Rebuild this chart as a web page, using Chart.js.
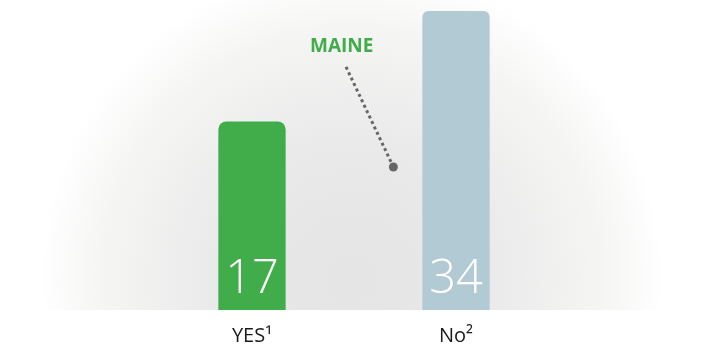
<!DOCTYPE html>
<html>
<head>
<meta charset="utf-8">
<script src="https://cdn.jsdelivr.net/npm/chart.js@4/dist/chart.umd.min.js"></script>
<style>
  html, body { margin: 0; padding: 0; background: #ffffff; }
  #wrap { width: 705px; height: 348px; position: relative; }
</style>
</head>
<body>
<div id="wrap"><canvas id="chart"></canvas></div>
<script>
// Poll result: Maine
const categories = ['YES\u00B9', 'No\u00B2'];
const votes = [17, 34];
const barColors = ['#41ad4a', '#b2cad4'];
const calloutText = 'MAINE';
const axisFloor = -12;

// Soft radial backdrop behind the plot, cut off at the baseline
const backdrop = {
  id: 'backdrop',
  beforeDraw(chart) {
    const { ctx, chartArea } = chart;
    const cx = 352, cy = 278, r = 312;
    ctx.save();
    ctx.beginPath();
    ctx.rect(0, 0, chart.width, chartArea.bottom);
    ctx.clip();
    const g = ctx.createRadialGradient(cx, cy, 0, cx, cy, r);
    g.addColorStop(0, '#e4e4e4');
    g.addColorStop(0.45, '#eaeaea');
    g.addColorStop(0.8, '#f5f5f4');
    g.addColorStop(1, '#ffffff');
    ctx.fillStyle = '#ffffff';
    ctx.fillRect(0, 0, chart.width, chartArea.bottom);
    ctx.fillStyle = g;
    ctx.fillRect(0, 0, chart.width, chartArea.bottom);
    ctx.restore();
  }
};

// Value labels inside each bar, near the base
const barValues = {
  id: 'barValues',
  afterDatasetsDraw(chart) {
    const { ctx } = chart;
    const meta = chart.getDatasetMeta(0);
    ctx.save();
    ctx.fillStyle = '#ffffff';
    ctx.font = '300 47px "Open Sans", sans-serif';
    ctx.textAlign = 'center';
    ctx.textBaseline = 'alphabetic';
    meta.data.forEach((bar, i) => {
      ctx.fillText(String(votes[i]), bar.x, chart.chartArea.bottom - 17);
    });
    ctx.restore();
  }
};

// State callout with a dotted leader line
const callout = {
  id: 'callout',
  afterDatasetsDraw(chart) {
    const { ctx, scales } = chart;
    const x = scales.x, y = scales.y;
    const lx = x.getPixelForValue(0.44), ly = y.getPixelForValue(28.6);
    const sx = x.getPixelForValue(0.461), sy = y.getPixelForValue(25.4);
    const ex = x.getPixelForValue(0.693), ey = y.getPixelForValue(10.0);
    ctx.save();
    ctx.fillStyle = '#41ad4a';
    ctx.font = '700 19px "Open Sans", sans-serif';
    ctx.textAlign = 'center';
    ctx.textBaseline = 'middle';
    ctx.fillText(calloutText, lx, ly);
    ctx.strokeStyle = '#666666';
    ctx.lineWidth = 3;
    ctx.setLineDash([3, 3]);
    ctx.beginPath();
    ctx.moveTo(sx, sy);
    ctx.lineTo(ex, ey);
    ctx.stroke();
    ctx.setLineDash([]);
    ctx.fillStyle = '#666666';
    ctx.beginPath();
    ctx.arc(ex, ey, 4.5, 0, Math.PI * 2);
    ctx.fill();
    ctx.restore();
  }
};

new Chart(document.getElementById('chart'), {
  type: 'bar',
  data: {
    labels: categories,
    datasets: [{
      data: votes,
      base: axisFloor,
      backgroundColor: barColors,
      borderRadius: (c) => {
        const r = c.dataIndex === 0 ? 8 : 6;
        return { topLeft: r, topRight: r, bottomLeft: 0, bottomRight: 0 };
      },
      borderSkipped: false,
      categoryPercentage: 0.66,
      barPercentage: 0.5
    }]
  },
  options: {
    responsive: true,
    maintainAspectRatio: false,
    animation: false,
    layout: { padding: { left: 150, right: 147, top: 11, bottom: 0 } },
    plugins: { legend: { display: false }, tooltip: { enabled: false } },
    scales: {
      x: {
        grid: { display: false, drawTicks: false },
        border: { display: false },
        afterFit(scale) { scale.height = 38; },
        ticks: {
          color: '#1a1a1a',
          font: { family: '"Open Sans", sans-serif', size: 20 },
          padding: 14
        }
      },
      y: {
        display: false,
        min: axisFloor,
        max: 34
      }
    }
  },
  plugins: [backdrop, barValues, callout]
});
</script>
</body>
</html>
